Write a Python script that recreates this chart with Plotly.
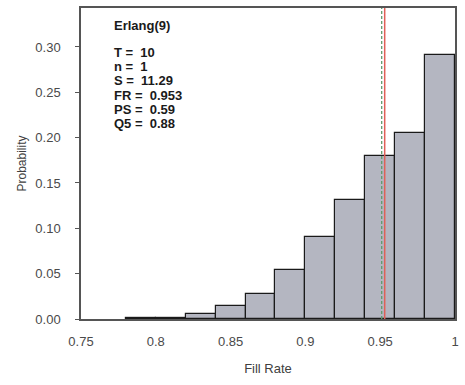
import plotly.graph_objects as go

# Data
bin_left = [0.78, 0.80, 0.82, 0.84, 0.86, 0.88, 0.90, 0.92, 0.94, 0.96, 0.98]
probability = [0.0012, 0.0015, 0.0058, 0.0138, 0.0277, 0.054, 0.090, 0.1316, 0.1798, 0.205, 0.2917]
bin_width = 0.02
fill_rate_line = 0.953   # red solid
mean_line = 0.951        # green dashed
title_text = "Erlang(9)"
stat_labels = ["T = ", "n = ", "S = ", "FR = ", "PS = ", "Q5 = "]
stat_values = ["10", "1", "11.29", "0.953", "0.59", "0.88"]
x_ticks = [0.75, 0.8, 0.85, 0.9, 0.95, 1.0]
x_tick_text = ["0.75", "0.8", "0.85", "0.9", "0.95", "1"]
y_ticks = [0.0, 0.05, 0.10, 0.15, 0.20, 0.25, 0.30]

centers = [b + bin_width / 2 for b in bin_left]
FONT = "Liberation Sans, Arial"

fig = go.Figure()
fig.add_trace(go.Bar(
    x=centers, y=probability, width=[bin_width] * len(centers),
    marker=dict(color="#b4b6c1", line=dict(color="#1a1a1a", width=1.2)),
    showlegend=False,
))

fig.add_shape(type="line", x0=mean_line, x1=mean_line, y0=0, y1=1, yref="paper",
              line=dict(color="#5f9a6c", width=1.3, dash="3px,2px"))
fig.add_shape(type="line", x0=fill_rate_line, x1=fill_rate_line, y0=0, y1=1, yref="paper",
              line=dict(color="#e06058", width=1.5))

fig.add_annotation(x=0.083, y=0.945, xref="paper", yref="paper", xanchor="left", yanchor="middle",
                   text="<b>" + title_text + "</b>", showarrow=False,
                   font=dict(family=FONT, size=13, color="#1a1a1a"))
for i, (l, v) in enumerate(zip(stat_labels, stat_values)):
    fig.add_annotation(x=0.083, y=0.858 - i * 0.046, xref="paper", yref="paper",
                       xanchor="left", yanchor="middle",
                       text="<b>%s %s</b>" % (l, v), showarrow=False,
                       font=dict(family=FONT, size=13, color="#1a1a1a"))

fig.update_layout(
    width=465, height=385,
    margin=dict(l=81, r=8, t=6, b=66),
    paper_bgcolor="white", plot_bgcolor="white",
    bargap=0,
    font=dict(family=FONT, size=13, color="#404040"),
    xaxis=dict(range=[0.75, 1.0], tickvals=x_ticks, ticktext=x_tick_text,
               showgrid=False, zeroline=False, showline=True, linecolor="#555555", linewidth=1.5,
               mirror=True, ticks="", ticklabelstandoff=10,
               title=dict(text="Fill Rate", font=dict(size=13, color="#404040"), standoff=16),
               tickfont=dict(size=13, color="#4a4a4a")),
    yaxis=dict(range=[0, 0.343], tickvals=y_ticks, tickformat=".2f",
               showgrid=False, zeroline=False, showline=True, linecolor="#555555", linewidth=1.5,
               mirror=True, ticks="outside", ticklen=4, tickcolor="#555555", ticklabelstandoff=12,
               title=dict(text="Probability", font=dict(size=12, color="#404040"), standoff=6),
               tickfont=dict(size=13, color="#4a4a4a")),
)

fig.write_html("out.html")
